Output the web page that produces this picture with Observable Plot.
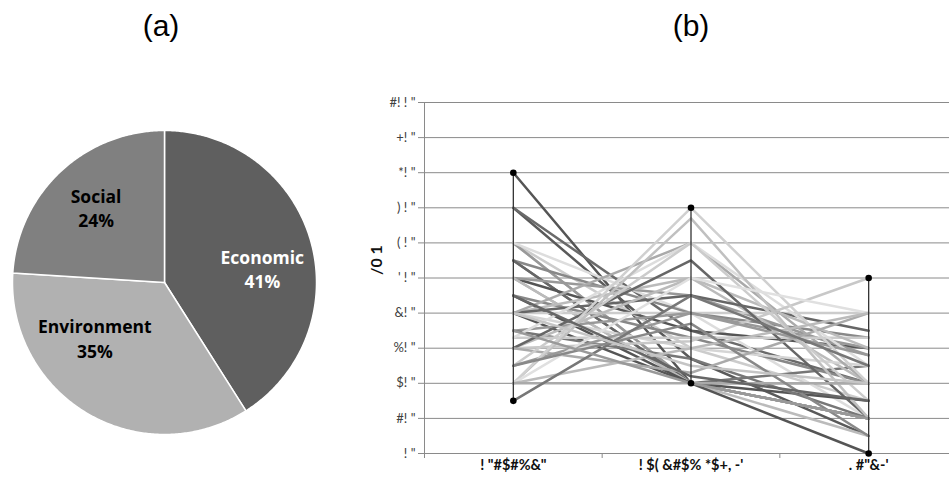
<!DOCTYPE html>
<html>
<head>
<meta charset="utf-8">
<script src="https://cdn.jsdelivr.net/npm/d3@7"></script>
<script src="https://cdn.jsdelivr.net/npm/@observablehq/plot@0.6"></script>
<style>
  html, body { margin: 0; padding: 0; background: #fff; }
  #root { position: relative; width: 949px; height: 486px; overflow: hidden; background: #fff; }
  .title { position: absolute; top: 11px; width: 120px; text-align: center;
           font-family: "Liberation Sans", Arial, sans-serif; font-size: 30px; line-height: 30px; color: #000; }
  #pie { position: absolute; left: 0; top: 0; }
  #par { position: absolute; left: 330px; top: 0; }
</style>
</head>
<body>
<div id="root">
  <div class="title" style="left:101px">(a)</div>
  <div class="title" style="left:631px">(b)</div>
  <div id="pie"></div>
  <div id="par"></div>
</div>
<script>
// ---------- Panel (a) data ----------
const pieNames = ["Economic", "Environment", "Social"];
const pieValues = [41, 35, 24];
const pieColors = ["#5f5f5f", "#b1b1b1", "#808080"];
const pieTextColors = ["#ffffff", "#000000", "#000000"];

// ---------- Panel (b) data ----------
const xLabels = ["! \"#$#%&\"", "! $( &#$% *$+, -'", ". #\"&-'"];
const yTicks = [0, 10, 20, 30, 40, 50, 60, 70, 80, 90, 100];
const yTickLabels = ["! \"", "#! \"", "$! \"", "%! \"", "&! \"", "' ! \"", "( ! \"", ") ! \"", "*! \"", "+! \"", "#! ! \""];
const yLabel = "/0 1";
const seriesA = [80, 70, 70, 60, 60, 60, 60, 55, 55, 55, 50, 50, 50, 50, 45, 45, 40, 40, 40, 40, 40, 40, 35, 35, 33, 33, 30, 30, 30, 30, 25, 25, 20, 20, 20, 20, 20, 15, 25, 45, 35, 40];
const seriesB = [20, 27, 35, 30, 20, 20, 40, 20, 40, 20, 35, 20, 45, 20, 20, 33, 40, 50, 20, 45, 30, 60, 40, 27, 33, 60, 32, 50, 55, 23, 60, 40, 67, 70, 50, 30, 20, 45, 37, 22, 20, 25];
const seriesC = [10, 5, 20, 15, 10, 20, 10, 25, 33, 10, 30, 10, 28, 5, 15, 20, 40, 20, 0, 35, 25, 20, 30, 10, 33, 25, 50, 30, 10, 40, 15, 28, 10, 20, 40, 40, 20, 25, 5, 15, 10, 20];
const lineShades = ["#555555", "#5a5a5a", "#6a6a6a", "#cccccc", "#bbbbbb", "#999999", "#dddddd", "#777777", "#888888", "#666666",
                    "#555555", "#aaaaaa", "#999999", "#bbbbbb", "#555555", "#888888", "#cccccc", "#bbbbbb", "#555555", "#666666",
                    "#d5d5d5", "#aaaaaa", "#999999", "#777777", "#cccccc", "#dddddd", "#c8c8c8", "#bbbbbb", "#666666", "#aaaaaa",
                    "#cccccc", "#999999", "#c0c0c0", "#d0d0d0", "#e0e0e0", "#bbbbbb", "#aaaaaa", "#777777", "#888888", "#666666",
                    "#999999", "#c5c5c5"];

// ---------- Pie geometry (computed from the values) ----------
const arcs = d3.pie().sort(null)(pieValues);
const piePts = [];
arcs.forEach((a, i) => {
  piePts.push({name: pieNames[i], x: 0, y: 0});
  const n = Math.max(2, Math.ceil((a.endAngle - a.startAngle) / 0.01));
  for (let k = 0; k <= n; k++) {
    const t = a.startAngle + (a.endAngle - a.startAngle) * k / n;
    piePts.push({name: pieNames[i], x: Math.sin(t), y: Math.cos(t)});
  }
});
// label placement (Excel "best fit" style nudges)
const labelAngleNudge = [8, 21, 1];
const labelRadius = [0.65, 0.585, 0.67];
const pieLabels = arcs.map((a, i) => {
  const t = (a.startAngle + a.endAngle) / 2 + labelAngleNudge[i] * Math.PI / 180;
  return {text: pieNames[i] + "\n" + pieValues[i] + "%", x: labelRadius[i] * Math.sin(t), y: labelRadius[i] * Math.cos(t), color: pieTextColors[i]};
});

const pie = Plot.plot({
  width: 330, height: 486, margin: 0,
  x: {domain: [-1, 1], range: [12, 316], axis: null},
  y: {domain: [-1, 1], range: [434, 130], axis: null},
  color: {domain: pieNames, range: pieColors},
  marks: [
    Plot.line(piePts, {x: "x", y: "y", z: "name", fill: "name", stroke: "white", strokeWidth: 1.5, curve: "linear-closed"}),
    Plot.text(pieLabels, {x: "x", y: "y", text: "text", fill: d => d.color, fontSize: 17.5, fontWeight: "bold",
      fontFamily: "'Open Sans', sans-serif", lineHeight: 1.4})
  ]
});
document.getElementById("pie").appendChild(pie);

// ---------- Parallel lines ----------
const series = [seriesA, seriesB, seriesC];
const rows = [];
lineShades.forEach((shade, i) => {
  series.forEach((s, j) => rows.push({line: i, axis: j, value: s[i], shade}));
});
const axisExtents = series.map((s, j) => ({axis: j, min: d3.min(s), max: d3.max(s)}));
const extentDots = axisExtents.flatMap(e => [{axis: e.axis, value: e.min}, {axis: e.axis, value: e.max}]);

const par = Plot.plot({
  width: 619, height: 486,
  marginLeft: 94, marginRight: 0, marginTop: 102, marginBottom: 33,
  x: {domain: [0, 3], range: [94, 627]},
  y: {domain: [0, 100], range: [453, 102]},
  color: {type: "identity"},
  style: {fontFamily: "Lato, 'Open Sans', sans-serif", overflow: "visible"},
  marks: [
    Plot.ruleY(yTicks, {stroke: "#8a8a8a", strokeWidth: 1}),
    Plot.ruleX([0], {stroke: "#8a8a8a", strokeWidth: 1}),
    Plot.axisY({ticks: yTicks, tickSize: 6, tickPadding: 3, tickFormat: d => yTickLabels[yTicks.indexOf(d)],
      stroke: "#8a8a8a", strokeOpacity: 1, fill: "#404040", fontSize: 13, label: null}),
    Plot.axisX({ticks: [0, 1, 2, 3], tickSize: 5, tickFormat: () => "", stroke: "#8a8a8a", strokeOpacity: 1, label: null}),
    Plot.axisX({ticks: [0.5, 1.5, 2.5], tickSize: 0, tickPadding: 6, tickFormat: v => xLabels[Math.floor(v)],
      fill: "#111", fontWeight: "bold", fontSize: 14.5, label: null}),
    Plot.text([yLabel], {frameAnchor: "left", dx: -48, dy: -3, rotate: -90, fontWeight: "bold", fontSize: 16, fill: "#111"}),
    Plot.line(rows, {x: d => d.axis + 0.5, y: "value", z: "line", stroke: "shade", strokeWidth: 2.5}),
    Plot.ruleX(axisExtents, {x: d => d.axis + 0.5, y1: "min", y2: "max", stroke: "#333", strokeWidth: 1.3}),
    Plot.dot(extentDots, {x: d => d.axis + 0.5, y: "value", r: 3.3, fill: "#000", stroke: null})
  ]
});
document.getElementById("par").appendChild(par);
</script>
</body>
</html>
